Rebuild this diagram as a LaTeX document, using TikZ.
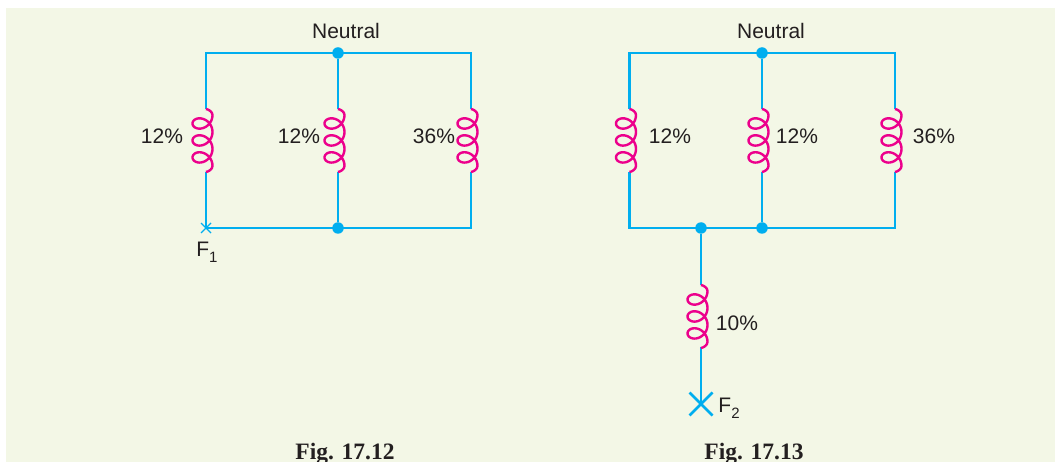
\documentclass[tikz,border=0pt]{standalone}
\usepackage{fontspec}
\setmainfont{Liberation Sans}
\newfontfamily\capfont{Liberation Serif}
\definecolor{bgc}{HTML}{F3F7E6}
\definecolor{wirec}{HTML}{00AEEF}
\definecolor{coilc}{HTML}{EC008C}
\definecolor{txtc}{HTML}{231F20}
\newcommand{\coilat}[2]{%
  \begin{scope}[shift={(#1,#2)}]
    \draw[coilline] (0,0) .. controls (3,0.5) and (6.5,3) .. (6.5,6)
      -- plot[domain=0:18.85,samples=100,variable=\t]
      ({-3.5+10*cos(\t r)},{6+2.7*\t+9*sin(\t r)})
      .. controls (6.5,60) and (3,62.5) .. (0,63);
  \end{scope}}
\newcommand{\subF}[1]{F\raisebox{-6pt}{\fontsize{15}{15}\selectfont #1}}
\tikzset{
  wire/.style={draw=wirec,line width=2.6pt},
  coilline/.style={draw=coilc,line width=2.4pt,line join=round},
  dotn/.style={circle,fill=wirec,inner sep=0pt,minimum size=11.5pt},
  lab/.style={font=\fontsize{21}{24}\selectfont,text=txtc,inner sep=0pt},
  figcap/.style={font=\capfont\bfseries\fontsize{23.5}{26}\selectfont,text=txtc,inner sep=0pt,anchor=base},
}
\begin{document}
\begin{tikzpicture}[x=1pt,y=-1pt]
\useasboundingbox (0,0) rectangle (1055,462);
\fill[white] (0,0) rectangle (1055,462);
\fill[bgc] (6,8) rectangle (1055,462);
% Fig. 17.12
\coordinate (a1) at (206,53); \node[dotn] (a2) at (338,53) {}; \coordinate (a3) at (471,53);
\coordinate (b1) at (206,228); \node[dotn] (b2) at (338,228) {}; \coordinate (b3) at (471,228);
\coordinate (c1t) at (206,109); \coordinate (c1b) at (206,172);
\coordinate (c2t) at (338,109); \coordinate (c2b) at (338,172);
\coordinate (c3t) at (471,109); \coordinate (c3b) at (471,172);
\draw[wire,line join=miter] (c1t) -- (a1) -- (a3) -- (c3t);
\draw[wire] (a2) -- (c2t);
\draw[wire,line join=miter] (c1b) -- (b1) -- (b3) -- (c3b);
\draw[wire] (b2) -- (c2b);
\coilat{206}{109}\coilat{338}{109}\coilat{471}{109}
\draw[draw=wirec,line width=1.4pt] (201,223) -- (211,233) (201,233) -- (211,223);
\node[lab] (n1) at (346,31) {Neutral};
\node[lab] (p1) at (162,136) {12\%};
\node[lab] (p2) at (299,136) {12\%};
\node[lab] (p3) at (434,136) {36\%};
\node[lab] (f1) at (207,252) {\subF{1}};
\node[figcap] (cap1) at (345,459) {Fig. 17.12};
% Fig. 17.13
\coordinate (d1) at (629.5,53); \node[dotn] (d2) at (762,53) {}; \coordinate (d3) at (895,53);
\coordinate (e1) at (629.5,228); \node[dotn] (e2) at (762,228) {}; \coordinate (e3) at (895,228);
\node[dotn] (e0) at (701,228) {};
\coordinate (g1t) at (629.5,109); \coordinate (g1b) at (629.5,172);
\coordinate (g2t) at (762,109); \coordinate (g2b) at (762,172);
\coordinate (g3t) at (895,109); \coordinate (g3b) at (895,172);
\coordinate (h1) at (701,285); \coordinate (h2) at (701,347); \coordinate (x2) at (701,404);
\draw[wire,line join=miter] (g1t) -- (d1) -- (d3) -- (g3t);
\draw[wire] (d2) -- (g2t);
\draw[wire,line join=miter] (g1b) -- (e1) -- (e3) -- (g3b);
\draw[wire] (e2) -- (g2b);
\draw[wire] (e0) -- (h1);
\draw[wire] (h2) -- (x2);
\coilat{629.5}{109}\coilat{762}{109}\coilat{895}{109}\coilat{701}{285}
\draw[wire] (689.5,392.5) -- (712.5,415.5) (689.5,415.5) -- (712.5,392.5);
\node[lab] (n2) at (771,31) {Neutral};
\node[lab] (q1) at (670,136) {12\%};
\node[lab] (q2) at (797,136) {12\%};
\node[lab] (q3) at (934,136) {36\%};
\node[lab] (q4) at (737,323) {10\%};
\node[lab] (f2) at (729,408) {\subF{2}};
\node[figcap] (cap2) at (754,459) {Fig. 17.13};
\end{tikzpicture}
\end{document}
